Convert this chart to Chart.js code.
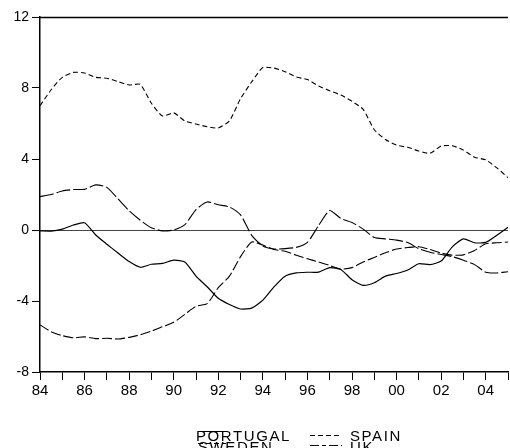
<!DOCTYPE html>
<html>
<head>
<meta charset="utf-8">
<script src="https://cdn.jsdelivr.net/npm/chart.js@4/dist/chart.umd.min.js"></script>
<style>
    html, body { margin: 0; padding: 0; background: #fff; overflow: hidden; }
    #wrap { width: 510px; height: 448px; position: relative; }
</style>
</head>
<body>
<div id="wrap"><canvas id="chart1"></canvas></div>
<script>
// half-yearly observations, 1984 - 2005
var periods = [1984, 1984.5, 1985, 1985.5, 1986, 1986.5, 1987, 1987.5, 1988, 1988.5,
    1989, 1989.5, 1990, 1990.5, 1991, 1991.5, 1992, 1992.5, 1993, 1993.5,
    1994, 1994.5, 1995, 1995.5, 1996, 1996.5, 1997, 1997.5, 1998, 1998.5,
    1999, 1999.5, 2000, 2000.5, 2001, 2001.5, 2002, 2002.5, 2003, 2003.5,
    2004, 2004.5, 2005];

var portugal = [-0.05, -0.06, 0.05, 0.28, 0.41, -0.28, -0.8, -1.3, -1.78, -2.1,
    -1.93, -1.88, -1.7, -1.8, -2.6, -3.2, -3.85, -4.2, -4.45, -4.4,
    -3.95, -3.2, -2.6, -2.42, -2.38, -2.37, -2.12, -2.22, -2.8, -3.12,
    -2.97, -2.6, -2.45, -2.25, -1.9, -1.95, -1.75, -0.95, -0.5, -0.72,
    -0.7, -0.3, 0.15];

var spain = [7.0, 7.9, 8.6, 8.88, 8.85, 8.6, 8.55, 8.36, 8.17, 8.2,
    7.14, 6.42, 6.6, 6.14, 5.97, 5.82, 5.75, 6.15, 7.4, 8.35,
    9.15, 9.12, 8.92, 8.62, 8.48, 8.11, 7.85, 7.6, 7.25, 6.8,
    5.65, 5.1, 4.78, 4.66, 4.45, 4.32, 4.73, 4.75, 4.5, 4.1,
    3.95, 3.5, 2.95];

var sweden = [-5.35, -5.73, -5.95, -6.07, -6.02, -6.12, -6.1, -6.14, -6.05, -5.9,
    -5.7, -5.45, -5.2, -4.75, -4.3, -4.15, -3.25, -2.6, -1.5, -0.68,
    -0.85, -1.1, -1.2, -1.42, -1.62, -1.8, -2.0, -2.2, -2.12, -1.8,
    -1.55, -1.28, -1.07, -0.99, -0.94, -1.1, -1.3, -1.42, -1.4, -1.15,
    -0.78, -0.72, -0.68];

var uk = [1.88, 2.0, 2.2, 2.28, 2.29, 2.54, 2.4, 1.75, 1.08, 0.55,
    0.12, -0.05, 0.0, 0.3, 1.15, 1.58, 1.42, 1.3, 0.85, -0.3,
    -0.9, -1.07, -1.05, -0.98, -0.7, 0.25, 1.1, 0.65, 0.42, 0.05,
    -0.42, -0.5, -0.57, -0.71, -1.05, -1.25, -1.38, -1.5, -1.7, -1.95,
    -2.38, -2.42, -2.35];

var yTicks = [-8, -4, 0, 4, 8, 12];

function toPoints(values) {
    return values.map(function (v, i) { return { x: periods[i], y: v }; });
}

// frame line on top + legend drawn like the original (rows overlap)
var framePlugin = {
    id: 'frame',
    beforeDatasetsDraw: function (chart) {
        var a = chart.chartArea, ctx = chart.ctx;
        ctx.save();
        ctx.strokeStyle = '#000';
        ctx.lineWidth = 1.5;
        ctx.beginPath();
        ctx.moveTo(a.left, a.top + 0.5);
        ctx.lineTo(a.right, a.top + 0.5);
        ctx.stroke();
        ctx.restore();
    },
    afterDraw: function (chart) {
        var ctx = chart.ctx;
        var ds = chart.data.datasets;
        // [lineX1, lineX2, lineY, textX, textBaseline]
        var spots = [[198, 226, 431, 196, 441], [310, 342, 435, 350, 441],
                     [198, 226, 443, 198, 452], [310, 342, 445, 350, 452]];
        ctx.save();
        ctx.font = '15px "Liberation Sans", Arial, sans-serif';
        ctx.fillStyle = '#000';
        ctx.textBaseline = 'alphabetic';
        ctx.letterSpacing = '1.6px';
        for (var i = 0; i < ds.length; i++) {
            var s = spots[i];
            ctx.strokeStyle = '#000';
            ctx.lineWidth = 1;
            ctx.setLineDash(ds[i].borderDash.length ? [5, 3] : []);
            if (i === 3) ctx.setLineDash([9, 3, 4, 3]);
            ctx.beginPath();
            ctx.moveTo(s[0], s[2] + 0.5);
            ctx.lineTo(s[1], s[2] + 0.5);
            ctx.stroke();
            ctx.setLineDash([]);
            ctx.fillText(ds[i].label, s[3], s[4]);
        }
        ctx.restore();
    }
};

var ctxChart1 = document.getElementById('chart1').getContext('2d');
var chart1 = new Chart(ctxChart1, {
    type: 'line',
    plugins: [framePlugin],
    data: {
        datasets: [{
            label: 'PORTUGAL',
            data: toPoints(portugal),
            borderColor: '#000',
            borderWidth: 1.2,
            borderDash: []
        }, {
            label: 'SPAIN',
            data: toPoints(spain),
            borderColor: '#000',
            borderWidth: 1.1,
            borderDash: [5, 3]
        }, {
            label: 'SWEDEN',
            data: toPoints(sweden),
            borderColor: '#000',
            borderWidth: 1.1,
            borderDash: [10, 3]
        }, {
            label: 'UK',
            data: toPoints(uk),
            borderColor: '#000',
            borderWidth: 1.1,
            borderDash: [14, 3]
        }]
    },
    options: {
        responsive: true,
        maintainAspectRatio: false,
        animation: false,
        layout: { padding: { top: 17, right: 0, left: 0, bottom: 0 } },
        elements: { point: { radius: 0 }, line: { tension: 0.2 } },
        plugins: {
            legend: { display: false },
            title: { display: false },
            tooltip: { enabled: false }
        },
        scales: {
            x: {
                type: 'linear',
                min: 1984,
                max: 2005,
                afterFit: function (scale) { scale.height = 76; },
                border: { color: '#000', width: 1.5 },
                grid: { drawOnChartArea: false, tickLength: 8, tickColor: '#000' },
                ticks: {
                    stepSize: 1,
                    autoSkip: false,
                    maxRotation: 0,
                    padding: 2,
                    color: '#000',
                    font: { family: '"Liberation Sans", Arial, sans-serif', size: 15 },
                    callback: function (v) {
                        if (v % 2 !== 0 || v >= 2005) return '';
                        return String(v % 100).padStart(2, '0');
                    }
                }
            },
            y: {
                min: -8,
                max: 12,
                afterFit: function (scale) { scale.width = 40; },
                afterBuildTicks: function (scale) {
                    scale.ticks = yTicks.map(function (v) { return { value: v }; });
                },
                border: { color: '#000', width: 1.5 },
                grid: {
                    tickLength: 8,
                    tickColor: '#000',
                    lineWidth: 1,
                    color: function (c) { return c.tick && c.tick.value === 0 ? '#444' : 'rgba(0,0,0,0)'; }
                },
                ticks: {
                    padding: 3,
                    color: '#000',
                    font: { family: '"Liberation Sans", Arial, sans-serif', size: 14 }
                }
            }
        }
    }
});
</script>
</body>
</html>
